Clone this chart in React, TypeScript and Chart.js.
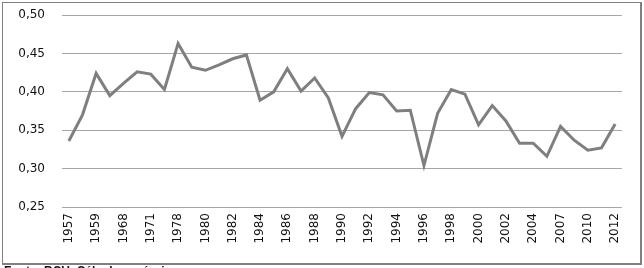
import React, { useEffect, useRef } from "react";
import { Chart, registerables } from "chart.js";

Chart.register(...registerables);

const years: string[] = [
  "1957", "1958", "1959", "1961", "1968", "1969", "1971", "1976", "1978", "1979",
  "1980", "1981", "1982", "1983", "1984", "1985", "1986", "1987", "1988", "1989",
  "1990", "1991", "1992", "1993", "1994", "1995", "1996", "1997", "1998", "1999",
  "2000", "2001", "2002", "2003", "2004", "2005", "2007", "2008", "2010", "2011",
  "2012",
];

const gini: number[] = [
  0.336, 0.37, 0.424, 0.395, 0.411, 0.426, 0.423, 0.403, 0.463, 0.432,
  0.428, 0.435, 0.443, 0.448, 0.389, 0.4, 0.43, 0.401, 0.418, 0.392,
  0.342, 0.378, 0.399, 0.396, 0.375, 0.376, 0.304, 0.372, 0.403, 0.397,
  0.357, 0.382, 0.362, 0.333, 0.333, 0.316, 0.355, 0.337, 0.324, 0.327,
  0.358,
];

const yMin = 0.25;
const yMax = 0.5;
const yStep = 0.05;

const sourceNote = "Fonte: BCU. Cálculos próprios";

export default function App() {
  const ref = useRef<HTMLCanvasElement>(null);

  useEffect(() => {
    document.body.style.margin = "0";
    document.body.style.overflow = "hidden";
    if (!ref.current) return;
    const chart = new Chart(ref.current, {
      type: "line",
      data: {
        labels: years,
        datasets: [
          {
            data: gini,
            borderColor: "#7f7f7f",
            borderWidth: 3,
            pointRadius: 0,
            tension: 0,
            fill: false,
          },
        ],
      },
      options: {
        animation: false,
        responsive: false,
        layout: { padding: { top: 15, right: 22, left: 0, bottom: 0 } },
        plugins: { legend: { display: false }, tooltip: { enabled: false } },
        scales: {
          x: {
            offset: true,
            grid: { display: false, drawTicks: false },
            border: { display: false },
            ticks: {
              autoSkip: false,
              maxRotation: 90,
              minRotation: 90,
              padding: 6,
              color: "#111",
              font: { family: "DejaVu Sans", size: 12 },
              callback: (_v: any, i: number) => (i % 2 === 0 ? years[i] : ""),
            },
            afterFit: (s: any) => {
              s.height = 61;
              s.paddingLeft = 0;
              s.paddingRight = 0;
            },
          },
          y: {
            min: yMin,
            max: yMax,
            grid: { color: "#a6a6a6", lineWidth: 1, drawTicks: false },
            border: { display: false },
            ticks: {
              stepSize: yStep,
              padding: 17,
              color: "#111",
              font: { family: "DejaVu Sans", size: 12 },
              callback: (v: any) => Number(v).toFixed(2).replace(".", ","),
            },
            afterFit: (s: any) => {
              s.width = 62;
              s.paddingTop = 0;
              s.paddingBottom = 0;
            },
          },
        },
      },
    });
    return () => chart.destroy();
  }, []);

  return (
    <div style={{ position: "relative", width: 644, height: 268, overflow: "hidden", background: "#fff" }}>
      <div
        style={{
          position: "absolute",
          left: 2,
          top: 2,
          width: 640,
          height: 263,
          boxSizing: "border-box",
          borderStyle: "solid",
          borderColor: "#808080",
          borderWidth: "1px 2px 2px 1px",
        }}
      />
      <canvas ref={ref} width={644} height={268} style={{ position: "absolute", left: 0, top: 0 }} />
      <div
        style={{
          position: "absolute",
          left: 4,
          top: 264,
          fontFamily: "Liberation Sans",
          fontWeight: "bold",
          fontSize: 12,
          whiteSpace: "nowrap",
          color: "#111",
        }}
      >
        {sourceNote}
      </div>
    </div>
  );
}
